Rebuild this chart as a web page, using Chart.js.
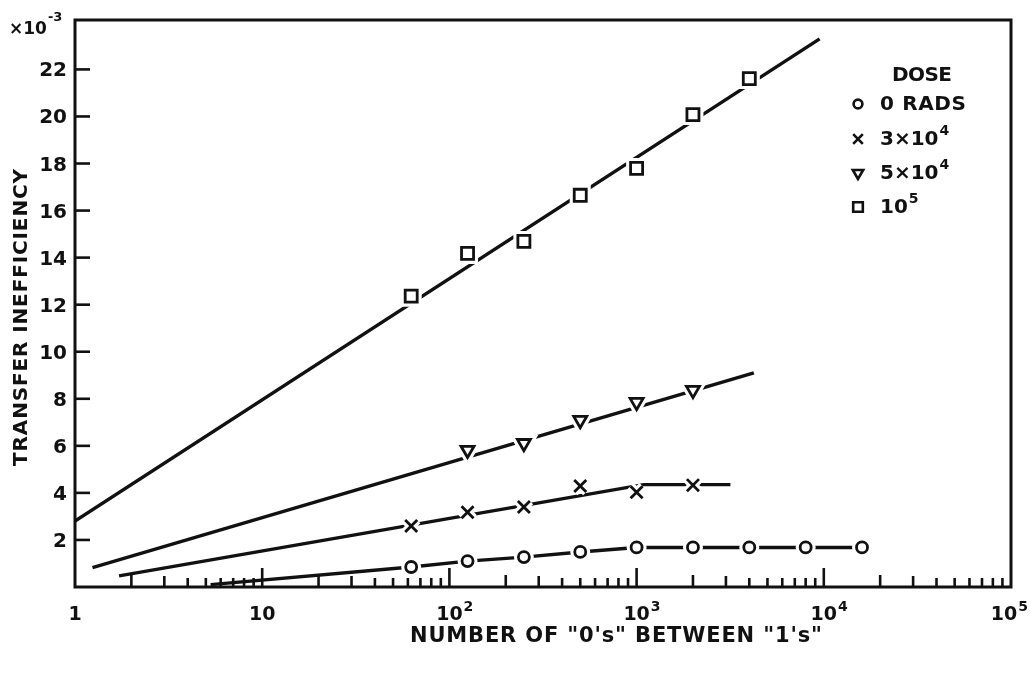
<!DOCTYPE html>
<html>
<head>
<meta charset="utf-8">
<title>Transfer inefficiency vs number of 0's</title>
<script src="https://cdn.jsdelivr.net/npm/chart.js@4.4.1/dist/chart.umd.min.js"></script>
<style>
  html, body { margin: 0; padding: 0; background: #fff; }
  canvas { display: block; }
</style>
</head>
<body>
<canvas id="chart" width="1030" height="674"></canvas>
<script>
// measured points (x = number of 0's, y = transfer inefficiency x10^-3)
const runs0   = [62.5, 125, 250, 500, 1000, 2000, 4000, 8000, 16000];
const dose0   = [0.85, 1.10, 1.27, 1.49, 1.68, 1.68, 1.68, 1.68, 1.68];
const runs3e4 = [62.5, 125, 250, 500, 1000, 2000];
const dose3e4 = [2.59, 3.18, 3.40, 4.29, 4.03, 4.33];
const runs5e4 = [125, 250, 500, 1000, 2000];
const dose5e4 = [5.82, 6.11, 7.09, 7.86, 8.37];
const runs1e5 = [62.5, 125, 250, 500, 1000, 2000, 4000];
const dose1e5 = [12.36, 14.18, 14.69, 16.65, 17.79, 20.08, 21.61];

// hand-drawn fit lines
const fit0X   = [5.3, 62.5, 125, 250, 500, 1000, 16000];
const fit0Y   = [0.10, 0.85, 1.10, 1.27, 1.49, 1.68, 1.68];
const fit3e4X = [1.72, 1090, 3170];
const fit3e4Y = [0.47, 4.35, 4.35];
const fit5e4X = [1.24, 4230];
const fit5e4Y = [0.82, 9.1];
const fit1e5X = [1, 9500];
const fit1e5Y = [2.8, 23.3];

// axes
const xTickValues = [1, 10, 100, 1000, 10000, 100000];
const xTickBase   = ['1', '10', '10', '10', '10', '10'];
const xTickExp    = ['', '', '2', '3', '4', '5'];
const yTickValues = [2, 4, 6, 8, 10, 12, 14, 16, 18, 20, 22];
const yTickLabels = ['2', '4', '6', '8', '10', '12', '14', '16', '18', '20', '22'];

const legendTitle = 'DOSE';
const legendBase  = ['0 RADS', '3×10', '5×10', '10'];
const legendExp   = ['', '4', '4', '5'];

const INK  = '#111';
const FONT = '"DejaVu Sans", "Liberation Sans", sans-serif';
const bold = px => 'bold ' + px + 'px ' + FONT;

const zip = (xs, ys) => xs.map((x, i) => ({ x, y: ys[i] }));

const markers = [
  { pts: zip(runs0, dose0),     style: 'circle',   radius: 5.5, rot: 0 },
  { pts: zip(runs3e4, dose3e4), style: 'crossRot', radius: 8.5, rot: 0 },
  { pts: zip(runs5e4, dose5e4), style: 'triangle', radius: 7.5, rot: 180 },
  { pts: zip(runs1e5, dose1e5), style: 'rect',     radius: 8.5, rot: 0 },
];
const fits = [zip(fit0X, fit0Y), zip(fit3e4X, fit3e4Y), zip(fit5e4X, fit5e4Y), zip(fit1e5X, fit1e5Y)];

const datasets = [];
markers.forEach(m => {
  datasets.push({
    data: m.pts, order: 0, showLine: false,
    pointStyle: m.style, pointRotation: m.rot, pointRadius: m.radius,
    pointBackgroundColor: '#fff', pointBorderColor: INK, pointBorderWidth: 2.8,
  });
  datasets.push({
    data: m.pts, order: 1, showLine: false,
    pointStyle: m.style, pointRotation: m.rot, pointRadius: m.radius,
    pointBackgroundColor: '#fff', pointBorderColor: '#fff', pointBorderWidth: 9,
  });
});
fits.forEach(f => {
  datasets.push({
    data: f, order: 2, showLine: true, borderColor: INK, borderWidth: 3.4,
    pointRadius: 0, tension: 0,
  });
});

function spacedText(ctx, text, x, y, target) {
  ctx.letterSpacing = '0px';
  const w = ctx.measureText(text).width;
  if (target && text.length > 1) {
    ctx.letterSpacing = ((target - w) / (text.length - 1)).toFixed(2) + 'px';
  }
  ctx.fillText(text, x, y);
  ctx.letterSpacing = '0px';
}

const inkPlugin = {
  id: 'ink',
  beforeDatasetsDraw(chart) {
    const { ctx, chartArea: a, scales: { x, y } } = chart;
    ctx.save();
    ctx.strokeStyle = INK;
    ctx.lineWidth = 3;
    ctx.strokeRect(a.left, a.top, a.right - a.left, a.bottom - a.top);

    ctx.lineWidth = 2.6;
    yTickValues.forEach(v => {
      const py = y.getPixelForValue(v);
      ctx.beginPath(); ctx.moveTo(a.left, py); ctx.lineTo(a.left + 15, py); ctx.stroke();
    });

    for (let d = 0; d < 5; d++) {
      for (let m = 1; m <= 9; m++) {
        if (d === 0 && m === 1) continue;
        const px = x.getPixelForValue(m * Math.pow(10, d));
        const len = m === 1 ? 19 : m === 2 ? 12 : m === 3 ? 11 : 9;
        ctx.beginPath(); ctx.moveTo(px, a.bottom); ctx.lineTo(px, a.bottom - len); ctx.stroke();
      }
    }
    ctx.restore();
  },
  afterDraw(chart) {
    const { ctx, chartArea: a, scales: { x, y } } = chart;
    ctx.save();
    ctx.fillStyle = INK;

    // y tick labels
    ctx.font = bold(20);
    ctx.textAlign = 'right';
    ctx.textBaseline = 'alphabetic';
    yTickValues.forEach((v, i) => {
      ctx.fillText(yTickLabels[i], a.left - 8, y.getPixelForValue(v) + 7);
    });

    // x tick labels with exponents
    xTickValues.forEach((v, i) => {
      const px = x.getPixelForValue(v);
      ctx.font = bold(19);
      const bw = ctx.measureText(xTickBase[i]).width;
      ctx.font = bold(14);
      const ew = xTickExp[i] ? ctx.measureText(xTickExp[i]).width : 0;
      let left = px - bw / 2;
      if (left + bw + ew > 1027) left = 1027 - bw - ew;
      ctx.textAlign = 'left';
      ctx.font = bold(19);
      ctx.fillText(xTickBase[i], left, 620);
      if (xTickExp[i]) {
        ctx.font = bold(14);
        ctx.fillText(xTickExp[i], left + bw + 1, 611);
      }
    });

    // multiplier
    ctx.textAlign = 'left';
    ctx.font = bold(17);
    ctx.fillText('×10', 9, 34);
    const mw = ctx.measureText('×10').width;
    ctx.font = bold(13);
    ctx.fillText('-3', 9 + mw + 1, 21);

    // axis titles
    ctx.font = bold(21);
    ctx.textAlign = 'left';
    ctx.textBaseline = 'middle';
    spacedText(ctx, 'NUMBER OF "0\'s" BETWEEN "1\'s"', 410, 637, 412);

    ctx.save();
    ctx.translate(22, 318);
    ctx.rotate(-Math.PI / 2);
    ctx.font = bold(20);
    spacedText(ctx, 'TRANSFER INEFFICIENCY', -148, 0, 297);
    ctx.restore();

    // legend
    ctx.font = bold(20);
    ctx.textAlign = 'left';
    ctx.textBaseline = 'middle';
    spacedText(ctx, legendTitle, 892, 76, 60);
    const rows = [104, 139, 173, 207];
    markers.forEach((m, i) => {
      const ly = rows[i];
      ctx.strokeStyle = INK;
      ctx.fillStyle = '#fff';
      ctx.lineWidth = 2.6;
      if (Chart.helpers && Chart.helpers.drawPoint) {
        Chart.helpers.drawPoint(ctx, {
          pointStyle: m.style, rotation: m.rot, radius: m.radius * 0.8, borderWidth: 2.6,
        }, 858, ly);
      }
      ctx.fillStyle = INK;
      ctx.font = bold(20);
      spacedText(ctx, legendBase[i], 880, ly + 1, i === 0 ? 86 : 0);
      if (legendExp[i]) {
        const bw = ctx.measureText(legendBase[i]).width;
        ctx.font = bold(14);
        ctx.fillText(legendExp[i], 880 + bw + 1, ly - 8);
      }
    });
    ctx.restore();
  },
};

new Chart(document.getElementById('chart'), {
  type: 'scatter',
  data: { datasets },
  options: {
    responsive: false,
    animation: false,
    events: [],
    layout: { padding: { left: 75, top: 20, right: 19, bottom: 87 } },
    plugins: { legend: { display: false }, tooltip: { enabled: false } },
    scales: {
      x: { type: 'logarithmic', min: 1, max: 100000, display: false },
      y: { type: 'linear', min: 0, max: 24.1, display: false },
    },
  },
  plugins: [inkPlugin],
});
</script>
</body>
</html>
